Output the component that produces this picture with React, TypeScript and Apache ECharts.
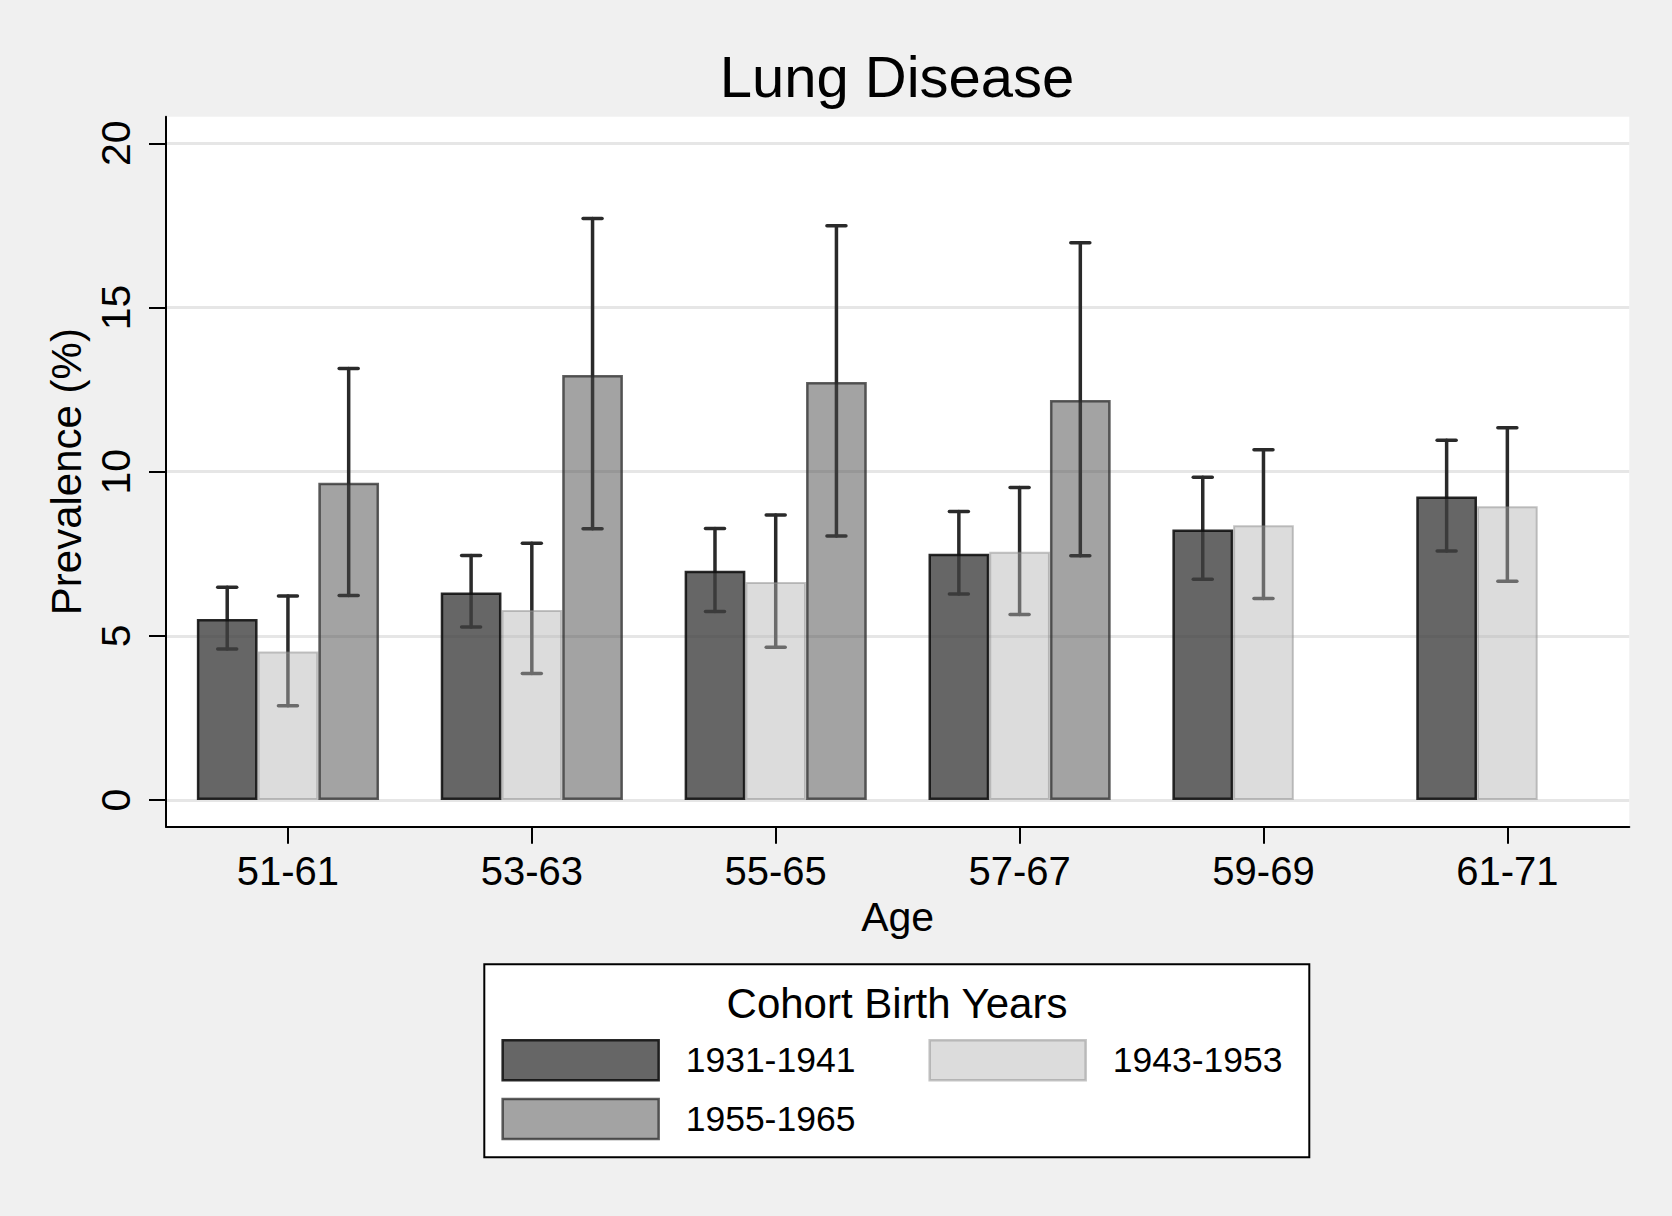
import React, { useEffect, useRef } from "react";
import * as echarts from "echarts";

const categories = ["51-61", "53-63", "55-65", "57-67", "59-69", "61-71"];
const cohorts = ["1931-1941", "1943-1953", "1955-1965"];

const prev1931 = [5.51, 6.32, 6.98, 7.5, 8.24, 9.24];
const lo1931 = [4.6, 5.27, 5.74, 6.27, 6.72, 7.58];
const hi1931 = [6.48, 7.45, 8.27, 8.79, 9.83, 10.96];

const prev1943 = [4.52, 5.79, 6.64, 7.56, 8.37, 8.95];
const lo1943 = [2.87, 3.85, 4.65, 5.65, 6.14, 6.66];
const hi1943 = [6.21, 7.82, 8.68, 9.52, 10.67, 11.34];

const prev1955 = [9.66, 12.94, 12.73, 12.18, null, null];
const lo1955 = [6.23, 8.26, 8.04, 7.44, null, null];
const hi1955 = [13.14, 17.71, 17.49, 16.97, null, null];

const yTicks = [0, 5, 10, 15, 20];

const FONT = "'Liberation Sans', Arial, Helvetica, sans-serif";
const GAP = 0.253;

const fills = ["rgba(64,64,64,0.8)", "rgba(181,181,181,0.47)", "rgba(71,71,71,0.5)"];
const borders = ["rgba(18,18,18,0.9)", "rgba(140,140,140,0.5)", "rgba(43,43,43,0.75)"];
const borderWidths = [2.5, 2, 2.5];

function ciData(lo: (number | null)[], hi: (number | null)[]) {
  const out: number[][] = [];
  lo.forEach((l, i) => {
    const h = hi[i];
    if (l != null && h != null) out.push([i, l, h]);
  });
  return out;
}

function makeRender(k: number) {
  return (params: any, api: any) => {
    const band = api.size([1, 0])[0];
    const bw = (band * (1 - GAP)) / 3;
    const off = (k - 1) * bw;
    const a = api.coord([api.value(0), api.value(2)]);
    const b = api.coord([api.value(0), api.value(1)]);
    const x = a[0] + off;
    const style = { stroke: "#2a2a2a", lineWidth: 3.5, lineCap: "round" };
    const cw = 9.5;
    return {
      type: "group",
      children: [
        { type: "line", shape: { x1: x, y1: a[1], x2: x, y2: b[1] }, style },
        { type: "line", shape: { x1: x - cw, y1: a[1], x2: x + cw, y2: a[1] }, style },
        { type: "line", shape: { x1: x - cw, y1: b[1], x2: x + cw, y2: b[1] }, style },
      ],
    };
  };
}

export default function App() {
  const ref = useRef<HTMLDivElement>(null);
  useEffect(() => {
    if (!ref.current) return;
    const chart = echarts.init(ref.current, null, { renderer: "svg" });
    const values = [prev1931, prev1943, prev1955];
    const los = [lo1931, lo1943, lo1955];
    const his = [hi1931, hi1943, hi1955];

    const barSeries = cohorts.map((name, k) => ({
      name,
      type: "bar",
      xAxisIndex: 0,
      yAxisIndex: 0,
      data: values[k].map((v) => (v == null ? "-" : v)),
      barGap: "0%",
      barCategoryGap: GAP * 100 + "%",
      z: 3,
      itemStyle: { color: fills[k], borderColor: borders[k], borderWidth: borderWidths[k] },
    }));
    const ciSeries = cohorts.map((name, k) => ({
      name: "ci " + name,
      type: "custom",
      xAxisIndex: 0,
      yAxisIndex: 0,
      z: 2,
      renderItem: makeRender(k),
      encode: { x: 0, y: [1, 2] },
      data: ciData(los[k], his[k]),
    }));

    const legendCommon = {
      orient: "horizontal",
      padding: 0,
      icon: "rect",
      itemWidth: 156,
      itemHeight: 40,
      itemGap: 73,
      selectedMode: false,
      itemStyle: { borderWidth: 2.5 },
      textStyle: { fontSize: 35.5, color: "#000", fontFamily: FONT, padding: [0, 0, 0, 22] },
    };

    chart.setOption({
      animation: false,
      backgroundColor: "#f0f0f0",
      textStyle: { fontFamily: FONT },
      graphic: [
        {
          type: "text",
          x: 897,
          y: 76.6,
          style: {
            text: "Lung Disease",
            fontSize: 58,
            fontFamily: FONT,
            fill: "#000",
            textAlign: "center",
            textVerticalAlign: "middle",
          },
        },
        {
          type: "rect",
          z: 0,
          shape: { x: 484.3, y: 964.3, width: 825, height: 193 },
          style: { fill: "#fff", stroke: "#000", lineWidth: 2 },
        },
        {
          type: "text",
          x: 897,
          y: 1003.7,
          z: 1,
          style: {
            text: "Cohort Birth Years",
            fontSize: 42,
            fontFamily: FONT,
            fill: "#000",
            textAlign: "center",
            textVerticalAlign: "middle",
          },
        },
      ],
      legend: [
        { ...legendCommon, data: [cohorts[0], cohorts[1]], left: 501.4, top: 1039 },
        { ...legendCommon, data: [cohorts[2]], left: 501.4, top: 1097.7 },
      ],
      grid: [
        { left: 166, right: 42.7, top: 143.3, bottom: 416, containLabel: false },
        {
          left: 166,
          right: 42.7,
          top: 116.7,
          bottom: 389.3,
          show: true,
          backgroundColor: "#ffffff",
          borderWidth: 0,
        },
      ],
      xAxis: [
        {
          type: "category",
          gridIndex: 0,
          data: categories,
          position: "bottom",
          offset: 26.7,
          axisLine: { show: false, onZero: false },
          axisTick: { show: true, alignWithLabel: true, length: 17, lineStyle: { color: "#000", width: 2 } },
          axisLabel: { interval: 0, fontSize: 40, color: "#000", margin: 24, fontFamily: FONT },
          name: "Age",
          nameLocation: "middle",
          nameGap: 70,
          nameTextStyle: { fontSize: 41, color: "#000", fontFamily: FONT },
          splitLine: { show: false },
        },
        {
          type: "value",
          gridIndex: 1,
          min: 0,
          max: 1,
          axisLine: { show: true, onZero: false, lineStyle: { color: "#000", width: 2 } },
          axisTick: { show: false },
          axisLabel: { show: false },
          splitLine: { show: false },
        },
      ],
      yAxis: [
        {
          type: "value",
          gridIndex: 0,
          min: yTicks[0],
          max: yTicks[yTicks.length - 1],
          interval: 5,
          axisLine: { show: false },
          axisTick: { show: true, length: 17, lineStyle: { color: "#000", width: 2 } },
          axisLabel: { rotate: 90, fontSize: 41, color: "#000", margin: 30, fontFamily: FONT },
          splitLine: { show: true, lineStyle: { color: "#e6e6e6", width: 3 } },
          name: "Prevalence (%)",
          nameLocation: "middle",
          nameGap: 73,
          nameTextStyle: { fontSize: 42, color: "#000", fontFamily: FONT },
        },
        {
          type: "value",
          gridIndex: 1,
          min: 0,
          max: 1,
          axisLine: { show: true, onZero: false, lineStyle: { color: "#000", width: 2 } },
          axisTick: { show: false },
          axisLabel: { show: false },
          splitLine: { show: false },
        },
      ],
      series: [...ciSeries, ...barSeries],
    });
    return () => chart.dispose();
  }, []);
  return (
    <div
      ref={ref}
      style={{ position: "fixed", left: 0, top: 0, width: 1672, height: 1216 }}
    />
  );
}
